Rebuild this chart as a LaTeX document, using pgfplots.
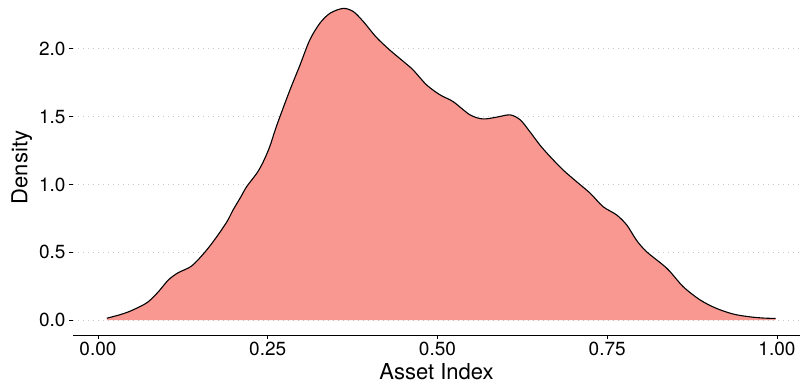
\documentclass[border=0pt]{standalone}
\usepackage{pgfplots}
\usepackage{pgfplotstable}
\pgfplotsset{compat=1.18}
\usepackage{fontspec}
\setmainfont{TeX Gyre Heros}
\definecolor{densfill}{RGB}{249,151,145}
\definecolor{gridgray}{RGB}{200,200,200}

\pgfplotstableread{
x y
0.013 0.014
0.030 0.036
0.045 0.061
0.060 0.095
0.074 0.135
0.089 0.209
0.1035 0.295
0.118 0.349
0.138 0.399
0.158 0.504
0.175 0.615
0.190 0.726
0.199 0.812
0.210 0.905
0.219 0.984
0.234 1.083
0.2435 1.168
0.253 1.279
0.261 1.402
0.268 1.500
0.283 1.700
0.2975 1.880
0.312 2.066
0.327 2.190
0.342 2.263
0.361 2.298
0.376 2.275
0.391 2.200
0.410 2.085
0.430 1.990
0.450 1.906
0.464 1.845
0.484 1.734
0.504 1.660
0.523 1.611
0.548 1.513
0.567 1.483
0.587 1.496
0.607 1.513
0.622 1.476
0.636 1.390
0.651 1.290
0.666 1.205
0.685 1.107
0.705 1.020
0.725 0.935
0.744 0.836
0.764 0.775
0.779 0.700
0.793 0.590
0.808 0.504
0.838 0.381
0.862 0.246
0.887 0.148
0.911 0.086
0.936 0.044
0.960 0.024
0.980 0.015
0.998 0.012
}\densdata

\begin{document}
\begin{tikzpicture}
\begin{axis}[
  scale only axis,
  width=727bp, height=335bp,
  xmin=-0.0368, xmax=1.034,
  ymin=-0.11, ymax=2.36,
  separate axis lines,
  axis x line*=bottom,
  axis y line*=left,
  y axis line style={draw=none},
  x axis line style={black, line width=1bp},
  tick align=outside,
  major tick length=4bp,
  tick style={black, line width=0.8bp},
  xtick={0,0.25,0.5,0.75,1},
  ytick={0,0.5,1,1.5,2},
  xticklabel style={/pgf/number format/fixed, /pgf/number format/fixed zerofill, /pgf/number format/precision=2},
  yticklabel style={/pgf/number format/fixed, /pgf/number format/fixed zerofill, /pgf/number format/precision=1},
  /pgf/number format/assume math mode=true,
  ticklabel style={font=\fontsize{19bp}{22bp}\selectfont, text=black},
  ymajorgrids,
  major grid style={gridgray, line width=0.8bp, dash pattern=on 1.2bp off 3.8bp},
  xlabel={Asset Index},
  ylabel={Density},
  label style={font=\fontsize{22bp}{26bp}\selectfont},
  clip=false,
]
\addplot[fill=densfill, draw=none, smooth, tension=0.5] table[x=x,y=y]{\densdata} \closedcycle;
\addplot[draw=black, line width=1.1bp, smooth, tension=0.5] table[x=x,y=y]{\densdata};
\end{axis}
\pgfresetboundingbox
\path[use as bounding box] ([shift={(-73bp,-50bp)}]current axis.south west) rectangle (current axis.north east);
\end{tikzpicture}
\end{document}
